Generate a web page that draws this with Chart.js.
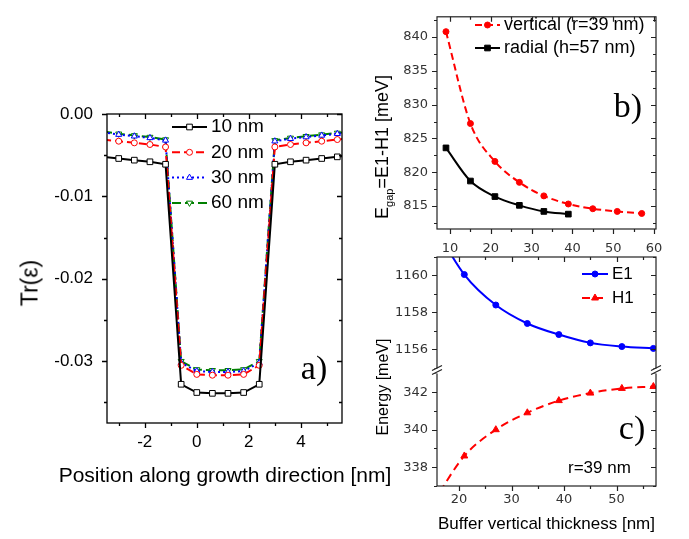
<!DOCTYPE html>
<html>
<head>
<meta charset="utf-8">
<script src="https://cdn.jsdelivr.net/npm/chart.js@4.4.0/dist/chart.umd.min.js"></script>
<style>
  body { margin: 0; background: #fff; }
  #wrap { position: relative; width: 689px; height: 539px; overflow: hidden; font-family: "Liberation Sans", Arial, sans-serif; }
  #wrap canvas { position: absolute; left: 0; top: 0; }
  .t { position: absolute; white-space: nowrap; color: #000; line-height: 1; }
  .rot { transform: translate(-50%, -50%) rotate(-90deg); }
  .ctr { transform: translate(-50%, -50%); }
  .mid { transform: translate(0, -50%); }
  .lab { font-family: "Liberation Serif", "Times New Roman", serif; font-size: 34px; }
</style>
</head>
<body>
<div id="wrap">
  <canvas id="chartA" width="689" height="539"></canvas>
  <canvas id="chartB" width="689" height="539"></canvas>
  <canvas id="chartC" width="689" height="539"></canvas>
  <div class="t rot" style="left:30px;top:283px;font-size:23px">Tr(ε)</div>
  <div class="t ctr" style="left:225px;top:474px;font-size:21px">Position along growth direction [nm]</div>
  <div class="t rot" style="left:384px;top:147px;font-size:18px">E<sub style="font-size:11px">gap</sub>=E1-H1 [meV]</div>
  <div class="t rot" style="left:383px;top:387px;font-size:16px">Energy [meV]</div>
  <div class="t lab ctr" style="left:314px;top:368px">a)</div>
  <div class="t lab ctr" style="left:628px;top:106px">b)</div>
  <div class="t lab ctr" style="left:632px;top:428px">c)</div>
  <div class="t mid" style="left:568px;top:467px;font-size:17px">r=39 nm</div>
</div>
<script>
// ---- panel a) : strain trace vs position
const aX = [-3.6, -3.0, -2.4, -1.8, -1.2, -0.6, 0, 0.6, 1.2, 1.8, 2.4, 3.0, 3.6, 4.2, 4.8, 5.4, 6.0];
const a10 = [-0.0052, -0.0054, -0.0056, -0.0058, -0.0061, -0.0328, -0.0338, -0.0339, -0.0339, -0.0338, -0.0328, -0.0061, -0.0058, -0.0056, -0.0054, -0.0052, -0.0050];
const a20 = [-0.0031, -0.0033, -0.0035, -0.0037, -0.0040, -0.0305, -0.0316, -0.0317, -0.0317, -0.0316, -0.0305, -0.0040, -0.0037, -0.0035, -0.0033, -0.0031, -0.0029];
const a30 = [-0.0022, -0.0025, -0.0027, -0.0029, -0.0032, -0.0302, -0.0312, -0.0313, -0.0313, -0.0312, -0.0302, -0.0033, -0.0030, -0.0028, -0.0026, -0.0024, -0.0022];
const a60 = [-0.0021, -0.0024, -0.0026, -0.0028, -0.0031, -0.0300, -0.0310, -0.0311, -0.0311, -0.0310, -0.0300, -0.0032, -0.0029, -0.0027, -0.0025, -0.0023, -0.0021];
const aXTicks = [-2, 0, 2, 4];
const aYTicks = [0, -0.01, -0.02, -0.03];

// ---- panel b) : gap vs buffer thickness
const bX = [9, 15, 21, 27, 33, 39, 45, 51, 57];
const bVert = [840.8, 827.2, 821.6, 818.5, 816.5, 815.3, 814.6, 814.2, 813.9];
const bRadX = [9, 15, 21, 27, 33, 39];
const bRad = [823.6, 818.7, 816.4, 815.1, 814.2, 813.8];
const bXTicks = [10, 20, 30, 40, 50, 60];
const bYTicks = [815, 820, 825, 830, 835, 840];

// ---- panel c) : E1 / H1 levels (broken y axis)
const cX = [15, 21, 27, 33, 39, 45, 51, 57];
const cE1 = [1162.8, 1160.05, 1158.4, 1157.4, 1156.8, 1156.35, 1156.15, 1156.05];
const cH1 = [336.1, 338.6, 340.0, 340.9, 341.55, 341.95, 342.2, 342.3];
const cXTicks = [20, 30, 40, 50];
const cTopTicks = [1156, 1158, 1160];
const cBotTicks = [338, 340, 342];

const FONT = '"Liberation Sans", Arial, sans-serif';
const SMALL = '"DejaVu Sans", sans-serif';

function pts(xs, ys) { return xs.map((x, i) => ({ x: x, y: ys[i] })); }
function fixSize(w, h) {
  return function(scale) {
    if (w != null) scale.width = w;
    if (h != null) scale.height = h;
  };
}
function setTicks(values) {
  return function(scale) { scale.ticks = values.map(v => ({ value: v })); };
}
function minorValues(vals, min, max) {
  const s = vals.slice().sort((p, q) => p - q);
  if (s.length < 2) return [];
  const step = s[1] - s[0];
  const eps = step * 1e-6;
  const out = [];
  for (let k = -10; k < s.length + 10; k++) {
    const v = s[0] + step * k + step / 2;
    if (v >= min - eps && v <= max + eps) out.push(v);
  }
  return out;
}
const plain = v => String(v);

// box frame + ticks on all four sides (out on left/bottom, in on top/right)
const frameTicks = {
  id: 'frameTicks',
  afterDraw(chart, args, o) {
    const ctx = chart.ctx;
    const a = chart.chartArea;
    const major = o.major || 5, minor = o.minor || 3;
    ctx.save();
    ctx.strokeStyle = o.color || '#000';
    ctx.lineWidth = o.width || 1.2;
    ctx.strokeRect(a.left, a.top, a.right - a.left, a.bottom - a.top);
    Object.values(chart.scales).forEach(scale => {
      const vals = scale.ticks.map(t => t.value).filter(v => v >= scale.min && v <= scale.max);
      const draw = (v, len) => {
        const p = Math.round(scale.getPixelForValue(v)) + 0.5;
        ctx.beginPath();
        if (scale.isHorizontal()) {
          ctx.moveTo(p, a.bottom); ctx.lineTo(p, a.bottom + len);
          ctx.moveTo(p, a.top); ctx.lineTo(p, a.top + len);
        } else {
          ctx.moveTo(a.left, p); ctx.lineTo(a.left - len, p);
          ctx.moveTo(a.right, p); ctx.lineTo(a.right - len, p);
        }
        ctx.stroke();
      };
      vals.forEach(v => draw(v, major));
      minorValues(vals, scale.min, scale.max).forEach(v => draw(v, minor));
    });
    if (o.breakScale && chart.scales[o.breakScale]) {
      const yb = chart.scales[o.breakScale].bottom;
      [a.left, a.right].forEach(xb => {
        ctx.fillStyle = '#fff';
        ctx.fillRect(xb - 3, yb - 3, 6, 5);
        ctx.beginPath();
        ctx.moveTo(xb - 5, yb - 1); ctx.lineTo(xb + 5, yb - 6);
        ctx.moveTo(xb - 5, yb + 3); ctx.lineTo(xb + 5, yb - 2);
        ctx.stroke();
      });
    }
    ctx.restore();
  }
};

// legend drawn inside the plot, from the datasets' own styles
const inLegend = {
  id: 'inLegend',
  afterDatasetsDraw(chart, args, o) {
    if (!o || o.x == null) return;
    const ctx = chart.ctx;
    ctx.save();
    chart.data.datasets.forEach((ds, i) => {
      const y = o.y + i * o.gap;
      ctx.strokeStyle = ds.borderColor;
      ctx.lineWidth = ds.borderWidth;
      ctx.setLineDash(ds.borderDash || []);
      ctx.beginPath();
      ctx.moveTo(o.x, y);
      ctx.lineTo(o.x + o.len, y);
      ctx.stroke();
      ctx.setLineDash([]);
      ctx.fillStyle = ds.pointBackgroundColor;
      ctx.strokeStyle = ds.pointBorderColor;
      ctx.lineWidth = ds.pointBorderWidth;
      Chart.helpers.drawPoint(ctx, {
        pointStyle: ds.pointStyle, radius: ds.pointRadius,
        rotation: ds.pointRotation || 0, borderWidth: ds.pointBorderWidth
      }, o.x + o.len / 2, y);
      ctx.fillStyle = '#000';
      ctx.font = o.font;
      ctx.textBaseline = 'middle';
      ctx.textAlign = 'left';
      ctx.fillText(ds.label, o.x + o.len + o.textGap, y);
    });
    ctx.restore();
  }
};

const noGrid = { display: false, drawTicks: false };
const base = {
  responsive: false,
  animation: false,
  events: []
};

// a)
new Chart(document.getElementById('chartA'), {
  type: 'line',
  data: {
    datasets: [
      { label: '10 nm', data: pts(aX, a10), borderColor: '#000', borderWidth: 2,
        pointStyle: 'rect', pointRadius: 4, pointBackgroundColor: '#fff', pointBorderColor: '#000', pointBorderWidth: 1 },
      { label: '20 nm', data: pts(aX, a20), borderColor: '#ff0000', borderWidth: 2, borderDash: [8, 4],
        pointStyle: 'circle', pointRadius: 3, pointBackgroundColor: '#fff', pointBorderColor: '#ff0000', pointBorderWidth: 1 },
      { label: '30 nm', data: pts(aX, a30), borderColor: '#0000ff', borderWidth: 2, borderDash: [2, 3],
        pointStyle: 'triangle', pointRadius: 3.5, pointBackgroundColor: '#fff', pointBorderColor: '#0000ff', pointBorderWidth: 1 },
      { label: '60 nm', data: pts(aX, a60), borderColor: '#008000', borderWidth: 2, borderDash: [9, 4],
        pointStyle: 'triangle', pointRotation: 180, pointRadius: 3.5, pointBackgroundColor: '#fff', pointBorderColor: '#008000', pointBorderWidth: 1 }
    ]
  },
  options: Object.assign({}, base, {
    layout: { padding: { left: 0, top: 114, right: 347, bottom: 0 } },
    scales: {
      x: {
        type: 'linear', min: -3.45, max: 5.58,
        afterBuildTicks: setTicks(aXTicks), afterFit: fixSize(null, 116),
        grid: noGrid, border: { display: false },
        ticks: { font: { family: FONT, size: 17 }, color: '#000', padding: 9, callback: plain }
      },
      y: {
        type: 'linear', min: -0.0375, max: 0,
        afterBuildTicks: setTicks(aYTicks), afterFit: fixSize(107, null),
        grid: noGrid, border: { display: false },
        ticks: { font: { family: FONT, size: 17 }, color: '#000', padding: 14, callback: v => v.toFixed(2) }
      }
    },
    plugins: {
      legend: { display: false }, tooltip: { enabled: false },
      frameTicks: { major: 5, minor: 3, width: 1.3 },
      inLegend: { x: 172, y: 127, gap: 25.3, len: 35, textGap: 4, font: '19px ' + FONT }
    }
  }),
  plugins: [frameTicks, inLegend]
});

// b)
new Chart(document.getElementById('chartB'), {
  type: 'line',
  data: {
    datasets: [
      { label: 'vertical (r=39 nm)', data: pts(bX, bVert), borderColor: '#ff0000', borderWidth: 2, borderDash: [7, 4],
        cubicInterpolationMode: 'monotone',
        pointStyle: 'circle', pointRadius: 3, pointBackgroundColor: '#ff0000', pointBorderColor: '#ff0000', pointBorderWidth: 1 },
      { label: 'radial (h=57 nm)', data: pts(bRadX, bRad), borderColor: '#000', borderWidth: 2,
        cubicInterpolationMode: 'monotone',
        pointStyle: 'rect', pointRadius: 4, pointBackgroundColor: '#000', pointBorderColor: '#000', pointBorderWidth: 1 }
    ]
  },
  options: Object.assign({}, base, {
    layout: { padding: { left: 392, top: 5, right: 33, bottom: 280 } },
    scales: {
      x: {
        type: 'linear', min: 6.8, max: 60.5,
        afterBuildTicks: setTicks(bXTicks), afterFit: fixSize(null, 30),
        grid: noGrid, border: { display: false },
        ticks: { font: { family: SMALL, size: 13 }, color: '#333', padding: 12, callback: plain }
      },
      y: {
        type: 'linear', min: 811.6, max: 843,
        afterBuildTicks: setTicks(bYTicks), afterFit: fixSize(45, null),
        grid: noGrid, border: { display: false },
        ticks: { font: { family: SMALL, size: 13 }, color: '#333', padding: 9, callback: plain }
      }
    },
    plugins: {
      legend: { display: false }, tooltip: { enabled: false },
      frameTicks: { major: 5, minor: 3, width: 1.2, color: '#222' },
      inLegend: { x: 475, y: 25, gap: 23, len: 25, textGap: 4, font: '18px ' + FONT }
    }
  }),
  plugins: [frameTicks, inLegend]
});

// c)
new Chart(document.getElementById('chartC'), {
  type: 'line',
  data: {
    datasets: [
      { label: 'E1', data: pts(cX, cE1), yAxisID: 'yTop', borderColor: '#0000ff', borderWidth: 2,
        cubicInterpolationMode: 'monotone',
        pointStyle: 'circle', pointRadius: 3, pointBackgroundColor: '#0000ff', pointBorderColor: '#0000ff', pointBorderWidth: 1 },
      { label: 'H1', data: pts(cX, cH1), yAxisID: 'yBot', borderColor: '#ff0000', borderWidth: 2, borderDash: [8, 5],
        cubicInterpolationMode: 'monotone',
        pointStyle: 'triangle', pointRadius: 4, pointBackgroundColor: '#ff0000', pointBorderColor: '#ff0000', pointBorderWidth: 1 }
    ]
  },
  options: Object.assign({}, base, {
    layout: { padding: { left: 392, top: 257, right: 33, bottom: 0 } },
    scales: {
      x: {
        type: 'linear', min: 15.8, max: 57.5,
        afterBuildTicks: setTicks(cXTicks), afterFit: fixSize(null, 53),
        grid: noGrid, border: { display: false },
        ticks: { font: { family: SMALL, size: 13 }, color: '#333', padding: 6, callback: plain },
        title: { display: true, text: 'Buffer vertical thickness [nm]', color: '#000',
                 font: { family: FONT, size: 17 }, padding: { top: 0, bottom: 4 } }
      },
      yTop: {
        type: 'linear', position: 'left', stack: 'c', stackWeight: 1, weight: 2,
        min: 1154.8, max: 1161,
        afterBuildTicks: setTicks(cTopTicks), afterFit: fixSize(45, null),
        grid: noGrid, border: { display: false },
        ticks: { font: { family: SMALL, size: 13 }, color: '#333', padding: 9, callback: plain }
      },
      yBot: {
        type: 'linear', position: 'left', stack: 'c', stackWeight: 1, weight: 1,
        min: 337, max: 343.1,
        afterBuildTicks: setTicks(cBotTicks), afterFit: fixSize(45, null),
        grid: noGrid, border: { display: false },
        ticks: { font: { family: SMALL, size: 13 }, color: '#333', padding: 9, callback: plain }
      }
    },
    plugins: {
      legend: { display: false }, tooltip: { enabled: false },
      frameTicks: { major: 5, minor: 3, width: 1.2, color: '#222', breakScale: 'yTop' },
      inLegend: { x: 582, y: 274, gap: 24, len: 26, textGap: 4, font: '17px ' + FONT }
    }
  }),
  plugins: [frameTicks, inLegend]
});
</script>
</body>
</html>
